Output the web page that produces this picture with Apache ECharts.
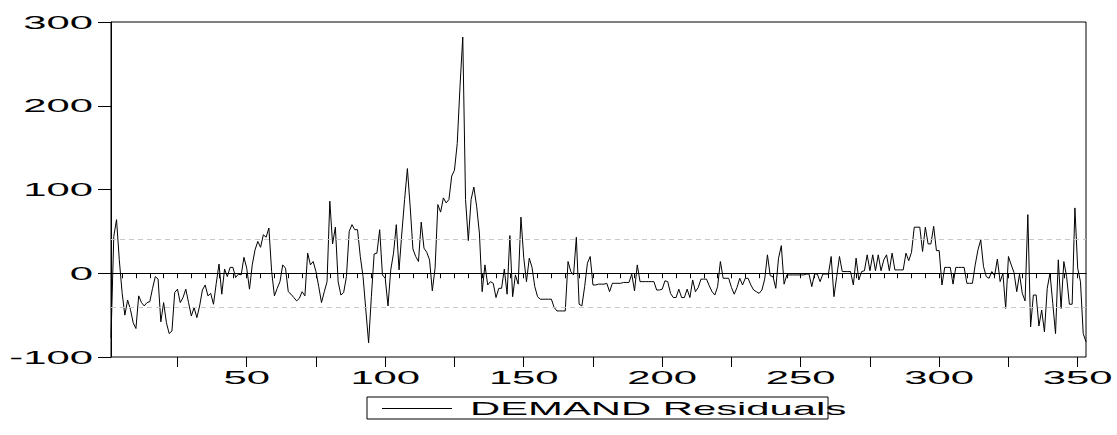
<!DOCTYPE html>
<html>
<head>
<meta charset="utf-8">
<title>DEMAND Residuals</title>
<script src="https://cdn.jsdelivr.net/npm/echarts@6/dist/echarts.min.js"></script>
<style>
  html, body { margin: 0; padding: 0; background: #ffffff; }
  #chart { width: 1117px; height: 435px; }
</style>
</head>
<body>
<div id="chart"></div>
<script>
// Regression residuals for observations 1..353
const residuals = [
  -77, 44, 64, 16, -23, -50, -32, -43, -59, -66,
  -27, -35, -39, -35, -34, -18, -4, -7, -58, -35,
  -59, -72, -69, -23, -19, -35, -29, -19, -35, -51,
  -41, -53, -39, -20, -14, -27, -24, -37, -12, 11,
  -25, 5, -4, 7, 7, -5, -1, -2, 19, 6,
  -19, 10, 28, 38, 31, 46, 43, 54, 2, -27,
  -18, -10, 10, 6, -22, -25, -29, -33, -30, -22,
  -27, 24, 10, 14, 2, -16, -35, -22, -10, 86,
  35, 55, -10, -26, -23, -4, 50, 58, 52, 52,
  20, -4, -44, -83, -28, 23, 24, 52, -2, -6,
  -39, 4, 24, 58, 4, 48, 88, 125, 80, 29,
  20, 14, 61, 30, 25, 16, -21, 6, 82, 73,
  90, 84, 88, 116, 123, 155, 223, 282, 88, 39,
  88, 103, 80, 48, -22, 10, -14, -10, -12, -29,
  -18, -18, 5, -25, 45, -28, -2, -13, 67, 19,
  -10, 18, 7, -16, -28, -31, -31, -31, -31, -31,
  -41, -45, -45, -45, -45, 14, 2, -2, 43, -37,
  -39, -16, 12, 20, -14, -14, -13, -13, -13, -12,
  -22, -12, -12, -12, -12, -11, -11, -11, -1, -21,
  10, -10, -10, -10, -10, -10, -10, -20, -20, -19,
  -9, -10, -24, -29, -29, -19, -29, -29, -19, -29,
  -8, -22, -17, -7, -7, -7, -15, -22, -26, -16,
  14, -6, -6, -6, -17, -25, -17, -6, -14, -6,
  -6, -14, -20, -22, -24, -20, -7, 22, -3, -4,
  -18, 18, 33, -13, -2, -2, -2, -2, -2, -2,
  -2, -1, -1, -16, -1, -1, -10, -1, -1, -1,
  20, -28, -4, 20, 2, 2, 2, 2, -14, 18,
  -8, 2, 3, 22, 3, 22, 3, 22, 3, 16,
  22, 3, 24, 4, 4, 4, 4, 24, 15, 25,
  55, 55, 55, 26, 55, 35, 35, 56, 27, 27,
  -14, 7, 7, 7, -13, 7, 7, 7, 7, -12,
  -12, -12, 10, 28, 40, 8, -4, -6, 2, -3,
  17, -10, 0, -42, 20, 10, 1, -22, -1, -24,
  -33, 70, -64, -26, -26, -63, -44, -70, -18, 0,
  -36, -72, 16, -42, 14, -4, -37, -37, 78, 6,
  -10, -72, -82
];

// Observation numbers used as the category axis
const observations = residuals.map((_, i) => String(i + 1));

// Axis ticks: labels every 50 obs, long ticks every 25, short ticks every 5
const labelStep = 50;
const majorTickStep = 25;
const minorTickStep = 5;

// Value axis range and step
const yMin = -100;
const yMax = 300;
const yStep = 100;

// Standard error of the regression, drawn as dashed bands
const residualSE = 40.3;

const seriesName = 'DEMAND Residuals';
const fontFamily = '"Liberation Sans", Arial, Helvetica, sans-serif';
const fontSize = 19;
// Horizontal stretch applied to every text (wide lettering)
const textStretch = 2.2;

const chart = echarts.init(document.getElementById('chart'), null, { renderer: 'svg' });

chart.setOption({
  animation: false,
  backgroundColor: '#ffffff',
  grid: {
    left: 111,
    right: 31,
    top: 22,
    bottom: 78,
    show: true,
    borderColor: '#000000',
    borderWidth: 1,
    backgroundColor: 'transparent',
    containLabel: false,
    outerBoundsMode: 'none'
  },
  legend: {
    show: true,
    left: 367,
    top: 397,
    orient: 'horizontal',
    borderColor: '#000000',
    borderWidth: 1,
    borderRadius: 0,
    padding: [2, 187, 1, 15],
    itemWidth: 70,
    itemHeight: 14,
    selectedMode: false,
    data: [{ name: seriesName, icon: 'path://M0,7 L70,7 L70,8 L0,8 Z' }],
    itemStyle: { color: '#000000', borderWidth: 0 },
    lineStyle: { color: '#000000', width: 1 },
    textStyle: {
      fontFamily: fontFamily,
      fontSize: fontSize,
      color: '#000000',
      padding: [0, 0, 0, 13]
    }
  },
  xAxis: [
    {
      type: 'category',
      data: observations,
      boundaryGap: false,
      position: 'bottom',
      axisLine: { show: true, lineStyle: { color: '#000000', width: 1 } },
      axisTick: {
        show: true,
        inside: false,
        length: 5,
        interval: (idx, val) => Number(val) % minorTickStep === 0,
        lineStyle: { color: '#000000', width: 1 }
      },
      axisLabel: {
        show: true,
        interval: (idx, val) => Number(val) % labelStep === 0,
        margin: 11,
        fontFamily: fontFamily,
        fontSize: fontSize,
        color: '#000000'
      },
      splitLine: { show: false }
    },
    {
      type: 'category',
      data: observations,
      boundaryGap: false,
      position: 'bottom',
      offset: 0,
      axisLine: { show: false },
      axisTick: {
        show: true,
        inside: false,
        length: 10,
        interval: (idx, val) => Number(val) % majorTickStep === 0,
        lineStyle: { color: '#000000', width: 1 }
      },
      axisLabel: { show: false },
      splitLine: { show: false }
    }
  ],
  yAxis: {
    type: 'value',
    min: yMin,
    max: yMax,
    interval: yStep,
    axisLine: { show: true, lineStyle: { color: '#000000', width: 1 } },
    axisTick: { show: true, inside: false, length: 13, lineStyle: { color: '#000000', width: 1 } },
    axisLabel: {
      show: true,
      margin: 18,
      fontFamily: fontFamily,
      fontSize: fontSize,
      color: '#000000'
    },
    splitLine: { show: false }
  },
  series: [
    {
      name: seriesName,
      type: 'line',
      xAxisIndex: 0,
      data: residuals,
      symbol: 'none',
      showSymbol: false,
      smooth: false,
      lineStyle: { color: '#000000', width: 1 },
      itemStyle: { color: '#000000' },
      emphasis: { disabled: true },
      markLine: {
        silent: true,
        symbol: 'none',
        label: { show: false },
        emphasis: { disabled: true },
        data: [
          { yAxis: residualSE, lineStyle: { color: '#c8c8c8', type: [5, 4], width: 1 } },
          { yAxis: -residualSE, lineStyle: { color: '#c8c8c8', type: [5, 4], width: 1 } },
          { yAxis: 0, lineStyle: { color: '#000000', type: 'solid', width: 1 } }
        ]
      }
    }
  ]
});

// Widen the rendered lettering horizontally, keeping each text's anchor
function stretchLettering() {
  document.querySelectorAll('#chart svg text').forEach((t) => {
    if (!t.dataset.natural) {
      t.dataset.natural = String(t.getComputedTextLength());
    }
    const w = Number(t.dataset.natural);
    if (w > 0) {
      t.setAttribute('textLength', (w * textStretch).toFixed(1));
      t.setAttribute('lengthAdjust', 'spacingAndGlyphs');
    }
  });
}
chart.on('finished', stretchLettering);
stretchLettering();
</script>
</body>
</html>
